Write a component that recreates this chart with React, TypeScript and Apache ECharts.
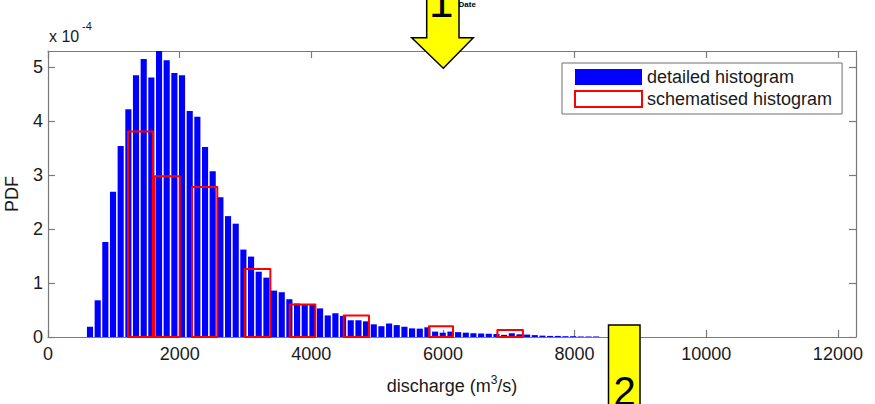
import React, { useEffect, useRef } from "react";
import * as echarts from "echarts";

// Detailed histogram: bin centres (m3/s) and PDF values (in units of 1e-4)
const detailedCenters = [
  638, 755, 871, 988, 1104, 1221, 1337, 1454, 1570, 1687, 1803, 1920, 2036, 2153,
  2269, 2386, 2502, 2619, 2735, 2852, 2968, 3085, 3201, 3318, 3434, 3551, 3667,
  3784, 3900, 4017, 4133, 4250, 4366, 4483, 4599, 4716, 4832, 4949, 5065, 5182,
  5298, 5415, 5531, 5648, 5764, 5881, 5997, 6114, 6230, 6347, 6463, 6580, 6696,
  6813, 6929, 7046, 7162, 7279, 7395, 7512, 7628, 7745, 7861, 7978, 8094, 8211, 8327,
];
const detailedPdf = [
  0.19, 0.68, 1.76, 2.69, 3.54, 4.22, 4.85, 5.15, 4.81, 5.3, 5.13, 4.89, 4.85, 4.19,
  4.08, 3.52, 3.07, 2.59, 2.24, 2.1, 1.62, 1.49, 1.21, 1.1, 0.86, 0.83, 0.7,
  0.62, 0.61, 0.61, 0.53, 0.4, 0.44, 0.39, 0.31, 0.31, 0.29, 0.235, 0.2, 0.25,
  0.22, 0.19, 0.16, 0.155, 0.18, 0.1, 0.08, 0.1, 0.09, 0.08, 0.07, 0.065, 0.06,
  0.055, 0.04, 0.07, 0.05, 0.045, 0.035, 0.025, 0.02, 0.02, 0.015, 0.015, 0.01, 0.01, 0.01,
];

// Schematised histogram: left edge, right edge (m3/s), PDF (1e-4)
const schemLeft = [1215, 1621, 2187, 2988, 3672, 4492, 5788, 6827];
const schemRight = [1595, 2001, 2572, 3378, 4062, 4876, 6153, 7215];
const schemPdf = [3.81, 2.98, 2.78, 1.26, 0.6, 0.4, 0.2, 0.13];

const xTicks = [0, 2000, 4000, 6000, 8000, 10000, 12000];
const yTicks = [0, 1, 2, 3, 4, 5];
const X_MAX = 12275;
const Y_MAX = 5.3;
const DETAIL_BAR_WIDTH = 93;

const FONT = "'Liberation Sans', Arial, Helvetica, sans-serif";
const AXIS_COLOR = "#7a7a7a";
const TEXT_COLOR = "#1a1a1a";

export default function App() {
  const ref = useRef<HTMLDivElement>(null);
  useEffect(() => {
    if (!ref.current) return;
    const chart = echarts.init(ref.current, undefined, { renderer: "svg" });
    const axisLine = { show: true, onZero: false, lineStyle: { color: AXIS_COLOR, width: 1.2 } };
    const tickStyle = (vals: number[]) => ({
      inside: true,
      length: 7,
      customValues: vals,
      lineStyle: { color: AXIS_COLOR, width: 1.2 },
    });
    chart.setOption({
      animation: false,
      backgroundColor: "#ffffff",
      textStyle: { fontFamily: FONT },
      grid: {
        left: 48,
        top: 51,
        width: 808,
        height: 286,
        containLabel: false,
        outerBoundsMode: "none",
      },
      xAxis: [
        {
          type: "value",
          min: 0,
          max: X_MAX,
          position: "bottom",
          axisLine,
          splitLine: { show: false },
          axisTick: tickStyle(xTicks),
          axisLabel: {
            customValues: xTicks,
            margin: 8,
            fontSize: 18,
            color: TEXT_COLOR,
            fontFamily: FONT,
            formatter: (v: number) => String(v),
          },
          name: "discharge (m{sup|3}/s)",
          nameLocation: "middle",
          nameGap: 37,
          nameTextStyle: {
            fontSize: 18,
            color: TEXT_COLOR,
            fontFamily: FONT,
            rich: { sup: { fontSize: 12, color: TEXT_COLOR, fontFamily: FONT, padding: [0, 0, 12, 0] } },
          },
        },
        {
          type: "value",
          min: 0,
          max: X_MAX,
          position: "top",
          axisLine,
          splitLine: { show: false },
          axisTick: tickStyle(xTicks),
          axisLabel: { show: false },
        },
      ],
      yAxis: [
        {
          type: "value",
          min: 0,
          max: Y_MAX,
          position: "left",
          axisLine,
          splitLine: { show: false },
          axisTick: tickStyle(yTicks),
          axisLabel: {
            customValues: yTicks,
            margin: 5,
            fontSize: 18,
            color: TEXT_COLOR,
            fontFamily: FONT,
            formatter: (v: number) => String(v),
          },
          name: "PDF",
          nameLocation: "middle",
          nameGap: 27,
          nameTextStyle: { fontSize: 18, color: TEXT_COLOR, fontFamily: FONT },
        },
        {
          type: "value",
          min: 0,
          max: Y_MAX,
          position: "right",
          axisLine,
          splitLine: { show: false },
          axisTick: tickStyle(yTicks),
          axisLabel: { show: false },
        },
      ],
      legend: {
        orient: "vertical",
        left: 562,
        top: 63,
        padding: [5, 10, 6, 12],
        itemGap: 4,
        itemWidth: 67,
        itemHeight: 16,
        borderColor: "#6e6e6e",
        borderWidth: 1,
        borderRadius: 0,
        backgroundColor: "#ffffff",
        selectedMode: false,
        textStyle: { fontFamily: FONT, fontSize: 18, color: TEXT_COLOR },
        data: [
          { name: "detailed histogram", icon: "rect", itemStyle: { color: "#0000ff", borderWidth: 0 } },
          {
            name: "schematised histogram",
            icon: "rect",
            itemStyle: { color: "#ffffff", borderColor: "#ff0000", borderWidth: 2 },
          },
        ],
      },
      series: [
        {
          type: "custom",
          name: "detailed histogram",
          xAxisIndex: 0,
          yAxisIndex: 0,
          encode: { x: 0, y: 1 },
          itemStyle: { color: "#0000ff" },
          data: detailedCenters.map((c, i) => [c, detailedPdf[i]]),
          z: 2,
          renderItem: (params: any, api: any) => {
            const c = api.value(0);
            const v = api.value(1);
            const p0 = api.coord([c - DETAIL_BAR_WIDTH / 2, v]);
            const p1 = api.coord([c + DETAIL_BAR_WIDTH / 2, 0]);
            return {
              type: "rect",
              shape: { x: p0[0], y: p0[1], width: p1[0] - p0[0], height: p1[1] - p0[1] },
              style: { fill: "#0000ff" },
            };
          },
        },
        {
          type: "custom",
          name: "schematised histogram",
          xAxisIndex: 0,
          yAxisIndex: 0,
          encode: { x: [0, 1], y: 2 },
          itemStyle: { color: "#ff0000" },
          data: schemLeft.map((l, i) => [l, schemRight[i], schemPdf[i]]),
          z: 3,
          renderItem: (params: any, api: any) => {
            const p0 = api.coord([api.value(0), api.value(2)]);
            const p1 = api.coord([api.value(1), 0]);
            return {
              type: "rect",
              shape: { x: p0[0], y: p0[1], width: p1[0] - p0[0], height: p1[1] - p0[1] },
              style: { fill: "rgba(0,0,0,0)", stroke: "#ff0000", lineWidth: 2, lineJoin: "round" },
            };
          },
        },
      ],
      graphic: [
        {
          type: "text",
          z: 99,
          style: { text: "x 10", x: 49, y: 36.5, fontSize: 16, fontFamily: FONT, fill: TEXT_COLOR, align: "left", verticalAlign: "middle" },
        },
        {
          type: "text",
          z: 99,
          style: { text: "-4", x: 82, y: 26, fontSize: 11, fontFamily: FONT, fill: TEXT_COLOR, align: "left", verticalAlign: "middle" },
        },
        {
          type: "text",
          z: 99,
          style: { text: "Date", x: 458.5, y: 4.5, fontSize: 8, fontWeight: "bold", fontFamily: FONT, fill: "#000", align: "left", verticalAlign: "middle" },
        },
        {
          type: "polygon",
          z: 100,
          shape: {
            points: [
              [426.7, -5],
              [459, -5],
              [459, 37.7],
              [473.3, 37.7],
              [443.3, 68.3],
              [411.7, 37.7],
              [426.7, 37.7],
            ],
          },
          style: { fill: "#ffff00", stroke: "#000000", lineWidth: 1.5 },
        },
        {
          type: "text",
          z: 101,
          style: { text: "1", x: 441.3, y: 1.5, fontSize: 44, fontFamily: FONT, fill: "#000", align: "center", verticalAlign: "middle" },
        },
        {
          type: "rect",
          z: 100,
          shape: { x: 608.5, y: 325, width: 31.5, height: 100 },
          style: { fill: "#ffff00", stroke: "#000000", lineWidth: 1.5 },
        },
        {
          type: "text",
          z: 101,
          style: { text: "2", x: 624.5, y: 391, fontSize: 40, fontFamily: FONT, fill: "#000", align: "center", verticalAlign: "middle" },
        },
      ],
    });
    return () => chart.dispose();
  }, []);
  return <div ref={ref} style={{ position: "fixed", left: 0, top: 0, width: 875, height: 404 }} />;
}
